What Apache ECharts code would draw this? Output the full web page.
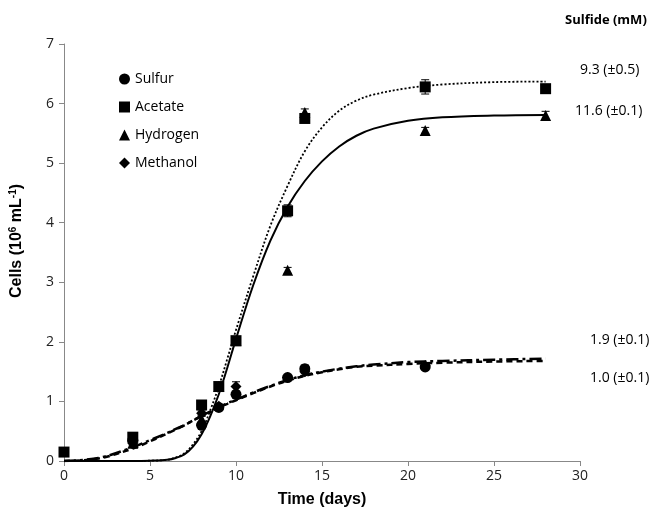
<!DOCTYPE html>
<html>
<head>
<meta charset="utf-8">
<script src="https://cdn.jsdelivr.net/npm/echarts@6/dist/echarts.min.js"></script>
<style>
  html, body { margin: 0; padding: 0; background: #fff; }
  #chart { width: 655px; height: 507px; }
</style>
</head>
<body>
<div id="chart"></div>
<script>
// measured points (days, cells 10^6/mL)
var days = [0, 4, 8, 9, 10, 13, 14, 21, 28]
var sulfur = [null, 0.35, 0.6, 0.9, 1.12, 1.4, 1.55, 1.58, null]
var sulfurErr = [0, 0.05, 0.04, 0.03, 0.05, 0.03, 0.06, 0.03, 0]
var acetate = [0.15, 0.4, 0.94, 1.25, 2.02, 4.2, 5.75, 6.28, 6.25]
var acetateErr = [0, 0.06, 0.06, 0.03, 0.05, 0.1, 0.05, 0.12, 0.07]
var hydrogen = [null, 0.3, 0.7, 1.25, 2.02, 3.2, 5.85, 5.55, 5.8]
var hydrogenErr = [0, 0.03, 0.05, 0.03, 0.04, 0.05, 0.06, 0.05, 0.07]
var methanol = [null, 0.3, 0.8, 0.92, 1.25, 1.4, 1.5, 1.6, null]
var methanolErr = [0, 0.03, 0.04, 0.03, 0.08, 0.03, 0.03, 0.03, 0]

// fitted curves
var fitDays = [0, 2, 4, 5, 6, 6.5, 7, 7.5, 8, 8.5, 9, 9.5, 10, 11, 12, 13, 14, 15, 16, 17, 18, 20, 22, 25, 28]
var fitHigh = [0, 0, 0, 0.005, 0.02, 0.06, 0.13, 0.28, 0.5, 0.85, 1.25, 1.72, 2.2, 3.1, 3.95, 4.62, 5.2, 5.6, 5.88, 6.05, 6.15, 6.26, 6.32, 6.36, 6.37]
var fitMid = [0, 0, 0, 0.005, 0.02, 0.05, 0.11, 0.24, 0.45, 0.75, 1.12, 1.57, 2.05, 2.95, 3.7, 4.27, 4.7, 5.03, 5.28, 5.46, 5.58, 5.71, 5.77, 5.8, 5.81]
var fitLowA = [0, 0.05, 0.23, 0.35, 0.47, 0.54, 0.6, 0.68, 0.75, 0.82, 0.9, 0.97, 1.03, 1.15, 1.26, 1.36, 1.44, 1.5, 1.55, 1.59, 1.62, 1.66, 1.68, 1.7, 1.72]
var fitLowB = [0, 0.04, 0.21, 0.33, 0.46, 0.53, 0.6, 0.68, 0.76, 0.83, 0.9, 0.96, 1.02, 1.14, 1.25, 1.35, 1.43, 1.49, 1.54, 1.58, 1.6, 1.63, 1.65, 1.67, 1.68]

var sulfideLabels = ['9.3 (±0.5)', '11.6 (±0.1)', '1.9 (±0.1)', '1.0 (±0.1)']

function pairs(xs, ys) {
	var out = []
	for (var i = 0; i < xs.length; i++) {
		if (ys[i] != null) out.push([xs[i], ys[i]])
	}
	return out
}

function errData(ys, es) {
	var out = []
	for (var i = 0; i < days.length; i++) {
		if (ys[i] != null) out.push([days[i], ys[i] - es[i], ys[i] + es[i]])
	}
	return out
}

// error bar drawing
function renderErr(params, api) {
	var x = api.value(0)
	var lo = api.coord([x, api.value(1)])
	var hi = api.coord([x, api.value(2)])
	var w = 4
	var st = { stroke: '#000', lineWidth: 1 }
	return {
		type: 'group',
		children: [
			{ type: 'line', shape: { x1: lo[0], y1: lo[1], x2: hi[0], y2: hi[1] }, style: st },
			{ type: 'line', shape: { x1: lo[0] - w, y1: lo[1], x2: lo[0] + w, y2: lo[1] }, style: st },
			{ type: 'line', shape: { x1: hi[0] - w, y1: hi[1], x2: hi[0] + w, y2: hi[1] }, style: st }
		]
	}
}

var font = '"Open Sans", "Noto Sans", sans-serif'
var boldFont = '"Liberation Sans", Arial, sans-serif'

var myChart = echarts.init(document.getElementById('chart'))

var option = {
	animation: false,
	backgroundColor: '#fff',
	grid: { left: 64, right: 75, top: 44, bottom: 46, outerBoundsMode: 'none' },
	legend: {
		orient: 'vertical',
		left: 114,
		top: 67,
		itemWidth: 11,
		itemHeight: 11,
		itemGap: 14,
		textStyle: { fontFamily: font, fontSize: 14, color: '#000' },
		data: [
			{ name: 'Sulfur', icon: 'circle' },
			{ name: 'Acetate', icon: 'rect' },
			{ name: 'Hydrogen', icon: 'triangle' },
			{ name: 'Methanol', icon: 'diamond' }
		]
	},
	xAxis: {
		type: 'value',
		min: 0,
		max: 30,
		interval: 5,
		splitLine: { show: false },
		axisLine: { lineStyle: { color: '#888', width: 1 } },
		axisTick: { show: true, length: 5, lineStyle: { color: '#888' } },
		axisLabel: { fontFamily: font, fontSize: 14, color: '#222', margin: 8 },
		name: 'Time (days)',
		nameLocation: 'middle',
		nameGap: 31,
		nameTextStyle: { fontFamily: boldFont, fontWeight: 'bold', fontSize: 16, color: '#000' }
	},
	yAxis: {
		type: 'value',
		min: 0,
		max: 7,
		interval: 1,
		splitLine: { show: false },
		axisLine: { show: true, lineStyle: { color: '#888', width: 1 } },
		axisTick: { show: true, length: 5, lineStyle: { color: '#888' } },
		axisLabel: { fontFamily: font, fontSize: 14, color: '#222', margin: 10 }
	},
	graphic: [
		{
			type: 'text', left: 565, top: 14,
			style: { text: 'Sulfide (mM)', fontFamily: font, fontWeight: 'bold', fontSize: 13, fill: '#000' }
		},
		{
			type: 'text', left: 580, top: 63,
			style: { text: sulfideLabels[0], fontFamily: font, fontSize: 14, fill: '#000' }
		},
		{
			type: 'text', left: 575, top: 104,
			style: { text: sulfideLabels[1], fontFamily: font, fontSize: 14, fill: '#000' }
		},
		{
			type: 'text', left: 590, top: 333,
			style: { text: sulfideLabels[2], fontFamily: font, fontSize: 14, fill: '#000' }
		},
		{
			type: 'text', left: 590, top: 371,
			style: { text: sulfideLabels[3], fontFamily: font, fontSize: 14, fill: '#000' }
		},
		{
			type: 'text', x: 17, y: 241, rotation: Math.PI / 2,
			style: {
				text: '{b|Cells (10}{s|6}{b| mL}{s|-1}{b|)}',
				align: 'center', verticalAlign: 'middle',
				rich: {
					b: { fontFamily: boldFont, fontWeight: 'bold', fontSize: 16, fill: '#000' },
					s: { fontFamily: boldFont, fontWeight: 'bold', fontSize: 10, fill: '#000', verticalAlign: 'top', padding: [0, 0, 8, 0] }
				}
			}
		}
	],
	series: [
		{
			name: 'fitHigh', type: 'line', smooth: 0.35, showSymbol: false, silent: true,
			data: pairs(fitDays, fitHigh),
			lineStyle: { color: '#000', width: 1.8, type: [2, 2] }
		},
		{
			name: 'fitMid', type: 'line', smooth: 0.35, showSymbol: false, silent: true,
			data: pairs(fitDays, fitMid),
			lineStyle: { color: '#000', width: 2 }
		},
		{
			name: 'fitLowA', type: 'line', smooth: 0.35, showSymbol: false, silent: true,
			data: pairs(fitDays, fitLowA),
			lineStyle: { color: '#000', width: 2.5, type: [12, 4, 3, 4] }
		},
		{
			name: 'fitLowB', type: 'line', smooth: 0.35, showSymbol: false, silent: true,
			data: pairs(fitDays, fitLowB),
			lineStyle: { color: '#000', width: 2.5, type: [6, 4] }
		},
		{ type: 'custom', renderItem: renderErr, data: errData(sulfur, sulfurErr), z: 3, silent: true },
		{ type: 'custom', renderItem: renderErr, data: errData(acetate, acetateErr), z: 3, silent: true },
		{ type: 'custom', renderItem: renderErr, data: errData(hydrogen, hydrogenErr), z: 3, silent: true },
		{ type: 'custom', renderItem: renderErr, data: errData(methanol, methanolErr), z: 3, silent: true },
		{
			name: 'Sulfur', type: 'scatter', symbol: 'circle', symbolSize: 11,
			itemStyle: { color: '#000', opacity: 1 }, data: pairs(days, sulfur), z: 4
		},
		{
			name: 'Acetate', type: 'scatter', symbol: 'rect', symbolSize: 11,
			itemStyle: { color: '#000', opacity: 1 }, data: pairs(days, acetate), z: 4
		},
		{
			name: 'Hydrogen', type: 'scatter', symbol: 'triangle', symbolSize: 11,
			itemStyle: { color: '#000', opacity: 1 }, data: pairs(days, hydrogen), z: 4
		},
		{
			name: 'Methanol', type: 'scatter', symbol: 'diamond', symbolSize: 11,
			itemStyle: { color: '#000', opacity: 1 }, data: pairs(days, methanol), z: 4
		}
	]
}

myChart.setOption(option)
</script>
</body>
</html>
